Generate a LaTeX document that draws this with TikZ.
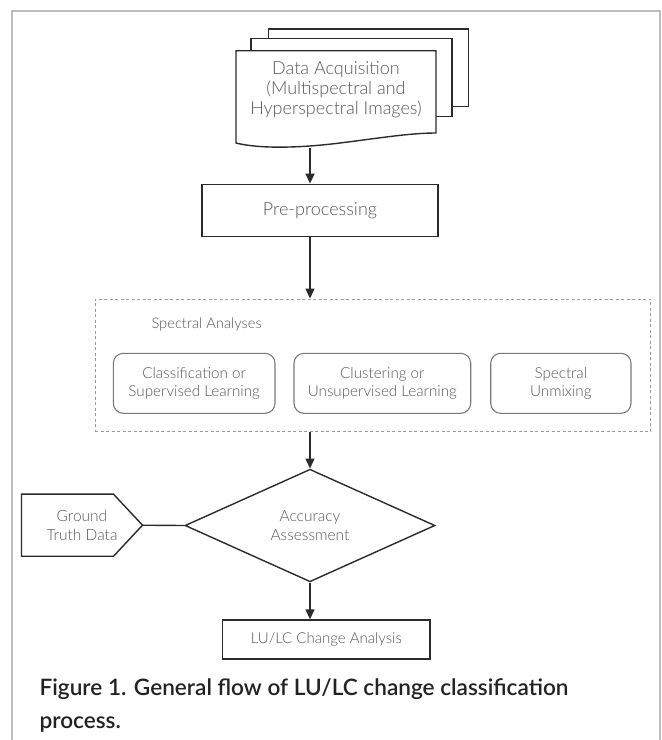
\documentclass[tikz,border=0pt]{standalone}
\usepackage{fontspec}
\setmainfont{Lato}
\newfontfamily\lightfont{Lato Light}
\newfontfamily\capfont{Lato Semibold}
\usetikzlibrary{arrows.meta,shapes.geometric}
\definecolor{linecol}{HTML}{2B2B2B}
\definecolor{txtcol}{HTML}{575757}
\definecolor{rcol}{HTML}{7A7A7A}
\definecolor{dashcol}{HTML}{9A9A9A}
\definecolor{framecol}{HTML}{BDBDBD}
\definecolor{capcol}{HTML}{222222}
\tikzset{
  box/.style={draw=linecol, line width=1.4pt, text=txtcol, inner sep=0pt, align=center},
  rbox/.style={draw=rcol, line width=1.1pt, rounded corners=10pt, text=txtcol, inner sep=0pt,
    align=center, minimum height=60pt, font=\lightfont\fontsize{15.2}{17.4}\selectfont},
  flow/.style={draw=linecol, line width=1.4pt, -{Triangle[width=9pt,length=10pt]}},
}
\begin{document}
\begin{tikzpicture}[x=1pt,y=-1pt]
\useasboundingbox (0,0) rectangle (662,740);
% 枠
\draw[framecol, line width=1.3pt] (12,742) -- (12,11) -- (660,11) -- (660,742);
% データ取得
\draw[linecol, line width=1.4pt] (268.7,38.7) -- (268.7,29) -- (468.7,29) -- (468.7,106.7) -- (452,106.7);
\draw[linecol, line width=1.4pt] (251,50.7) -- (251,38.7) -- (452,38.7) -- (452,116.7) -- (436,116.7);
\draw[linecol, line width=1.4pt, fill=white] (236,143) -- (236,50.7) -- (436,50.7) -- (436,133)
  .. controls (410,133) and (380,138) .. (340,143) .. controls (300,148) and (260,149) .. (236,143) -- cycle;
\node[text=txtcol, align=center, font=\lightfont\fontsize{18}{20}\selectfont] (acq) at (336,90)
  {Data Acquisition\\(Multispectral and\\Hyperspectral Images)};
\coordinate (acqbot) at (310,147.5);
% 前処理
\node[box, minimum width=236.3pt, minimum height=52.4pt, font=\lightfont\fontsize{18}{20}\selectfont]
  (pre) at (320,210.5) {Pre-processing};
% スペクトル解析
\node[draw=dashcol, dash pattern=on 3pt off 2.5pt, line width=1pt, minimum width=555.7pt,
  minimum height=132.7pt, inner sep=0pt] (spec) at (372.85,365.35) {};
\node[anchor=west, text=txtcol, font=\lightfont\fontsize{14.7}{17}\selectfont] (sa) at (148,324) {Spectral Analyses};
\node[rbox, minimum width=161.7pt] (cls) at (194.15,383.3) {Classification or\\Supervised Learning};
\node[rbox, minimum width=176.7pt] (clu) at (382.35,383.3) {Clustering or\\Unsupervised Learning};
\node[rbox, minimum width=140.3pt] (unm) at (560.85,383.3) {Spectral\\Unmixing};
% 精度評価
\node[diamond, draw=linecol, line width=1.4pt, minimum width=250pt, minimum height=112.6pt,
  aspect=2.22, inner sep=0pt, text=txtcol, align=center, font=\lightfont\fontsize{15.5}{19}\selectfont]
  (acc) at (310,525.5) {Accuracy\\Assessment};
\node[text=txtcol, align=center, minimum width=120.6pt, minimum height=61.7pt, inner sep=0pt,
  font=\lightfont\fontsize{15.5}{19.3}\selectfont] (gt) at (82,525.2) {Ground\\Truth Data};
\draw[linecol, line width=1.4pt] (gt.north west) -- ([xshift=-29pt]gt.north east) -- (gt.east)
  -- ([xshift=-29pt]gt.south east) -- (gt.south west) -- cycle;
\draw[linecol, line width=1.4pt] (gt.east) -- (acc.west);
% 変化解析
\node[box, minimum width=207.3pt, minimum height=39pt, font=\lightfont\fontsize{15}{18}\selectfont]
  (chg) at (326.35,639.5) {LU/LC Change Analysis};
% 矢印
\draw[flow] (acqbot) -- (acqbot |- pre.north);
\draw[flow] (acqbot |- pre.south) -- (acqbot |- spec.north);
\draw[flow] (acqbot |- spec.south) -- (acc.north);
\draw[flow] (acc.south) -- (acc.south |- chg.north);
% キャプション
\node[anchor=west, align=left, text=capcol, font=\capfont\fontsize{22.6}{33}\selectfont] (cap) at (36,705.5)
  {Figure 1. General flow of LU/LC change classification\\process.};
\end{tikzpicture}
\end{document}
